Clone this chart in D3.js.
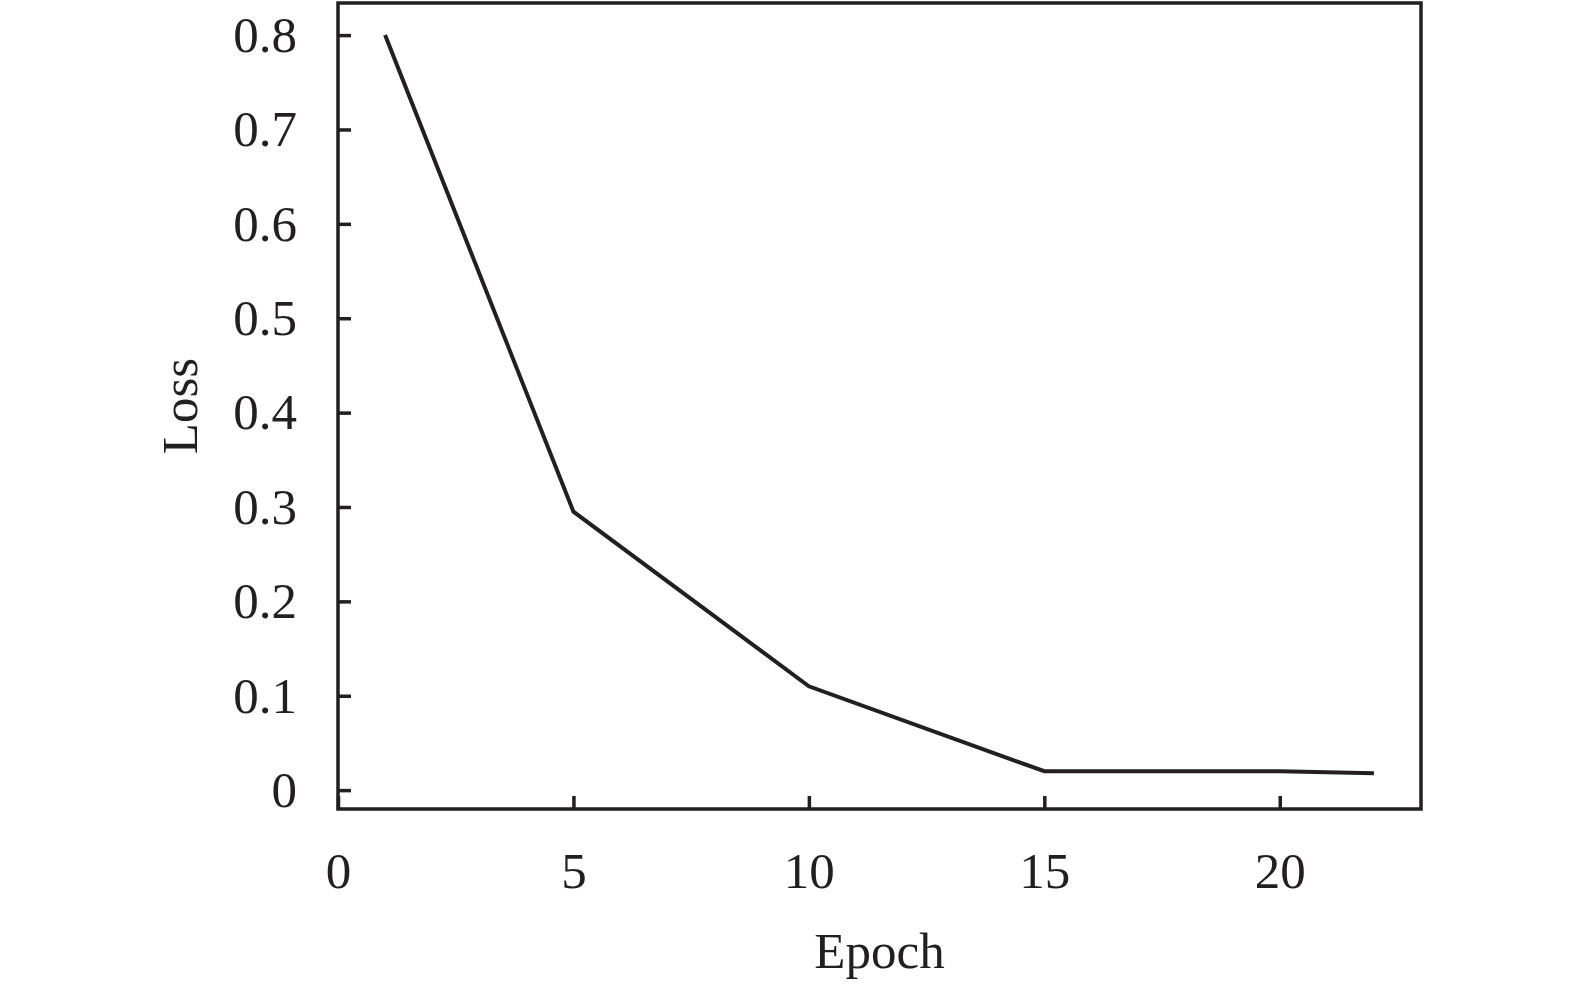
<!DOCTYPE html>
<style>
body { margin: 0; background: #fff; }
.axis .domain { display: none; }
.axis text { font-family: "Liberation Serif", "Times New Roman", serif; font-size: 51px; fill: #231f20; }
.axis line { stroke: #231f20; stroke-width: 3.5; }
</style>
<svg width="1575" height="988"></svg>
<script src="https://d3js.org/d3.v7.min.js"></script>
<script>

var epochs = [1, 5, 10, 15, 20, 22];
var losses = [0.8, 0.295, 0.11, 0.02, 0.02, 0.018];
var xTicks = [0, 5, 10, 15, 20];
var yTicks = [0, 0.1, 0.2, 0.3, 0.4, 0.5, 0.6, 0.7, 0.8];

var svg = d3.select("svg"),
    margin = {top: 3, right: 154, bottom: 179, left: 338},
    width = +svg.attr("width") - margin.left - margin.right,
    height = +svg.attr("height") - margin.top - margin.bottom,
    g = svg.append("g").attr("transform", "translate(" + margin.left + "," + margin.top + ")");

var x = d3.scaleLinear().domain([0, 23]).range([0, width]);
var y = d3.scaleLinear().domain([-0.02, 0.834]).range([height, 0]);

var data = epochs.map(function(e, i) { return {epoch: e, loss: losses[i]}; });

g.append("g")
    .attr("class", "axis")
    .attr("transform", "translate(0," + height + ")")
    .call(d3.axisBottom(x).tickValues(xTicks).tickSize(-13).tickPadding(43).tickFormat(d3.format("d")));

g.append("g")
    .attr("class", "axis")
    .call(d3.axisLeft(y).tickValues(yTicks).tickSize(-13).tickPadding(41)
      .tickFormat(function(d) { return d === 0 ? "0" : d3.format(".1f")(d); }));

g.append("rect")
    .attr("width", width)
    .attr("height", height)
    .attr("fill", "none")
    .attr("stroke", "#231f20")
    .attr("stroke-width", 3.5);

g.append("path")
    .datum(data)
    .attr("fill", "none")
    .attr("stroke", "#231f20")
    .attr("stroke-width", 4)
    .attr("d", d3.line().x(function(d) { return x(d.epoch); }).y(function(d) { return y(d.loss); }));

g.append("text")
    .attr("x", width / 2)
    .attr("y", height + 159)
    .attr("text-anchor", "middle")
    .attr("font-family", "Liberation Serif, serif")
    .attr("font-size", 51)
    .attr("fill", "#231f20")
    .text("Epoch");

g.append("text")
    .attr("transform", "translate(-141," + (height / 2) + ") rotate(-90)")
    .attr("text-anchor", "middle")
    .attr("font-family", "Liberation Serif, serif")
    .attr("font-size", 51)
    .attr("fill", "#231f20")
    .text("Loss");

</script>
